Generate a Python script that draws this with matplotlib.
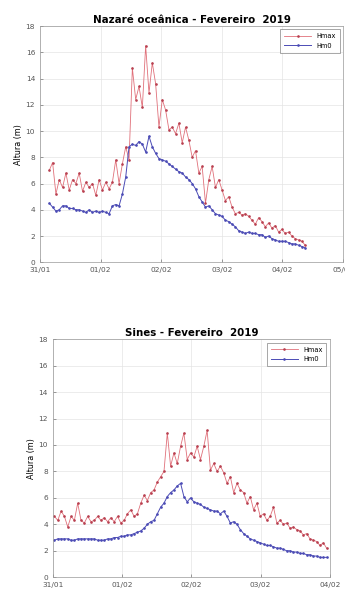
import pandas as pd
import matplotlib.pyplot as plt
import matplotlib.dates as mdates


# Nazaré oceânica - wave heights (m), regular sampling from 31/01 ~03:40
nazare_start = '2019-01-31 03:40'
nazare_hmax = [7.0, 7.6, 5.2, 6.3, 5.7, 6.8, 5.5, 6.3, 6.0, 6.8,
               5.4, 6.1, 5.7, 6.0, 5.1, 6.3, 5.5, 6.1, 5.6, 6.1,
               7.8, 6.0, 7.5, 8.8, 7.8, 14.8, 12.4, 13.4, 11.8, 16.5,
               12.9, 15.2, 13.6, 10.3, 12.4, 11.6, 10.1, 10.3, 9.8, 10.6,
               9.1, 10.3, 9.3, 8.0, 8.5, 6.8, 7.3, 4.5, 6.3, 7.3,
               5.7, 6.3, 5.5, 4.7, 5.0, 4.2, 3.7, 3.8, 3.6, 3.7,
               3.5, 3.2, 2.9, 3.4, 3.1, 2.7, 3.0, 2.6, 2.8, 2.3,
               2.5, 2.2, 2.3, 2.0, 1.8, 1.7, 1.6, 1.3]
nazare_hm0 = [4.5, 4.2, 3.9, 4.0, 4.3, 4.3, 4.1, 4.1, 4.0, 4.0,
              3.9, 3.8, 4.0, 3.8, 3.9, 3.8, 3.9, 3.8, 3.7, 4.3,
              4.4, 4.3, 5.2, 6.5, 8.8, 9.0, 8.9, 9.2, 9.0, 8.4,
              9.6, 8.8, 8.3, 7.9, 7.8, 7.7, 7.5, 7.3, 7.1, 6.9,
              6.8, 6.5, 6.3, 6.0, 5.6, 5.0, 4.6, 4.2, 4.3, 4.0,
              3.7, 3.6, 3.5, 3.2, 3.1, 2.9, 2.7, 2.4, 2.3, 2.2,
              2.3, 2.2, 2.2, 2.1, 2.1, 1.9, 2.0, 1.8, 1.7, 1.6,
              1.6, 1.6, 1.5, 1.4, 1.4, 1.3, 1.2, 1.1]

# Sines - wave heights (m)
sines_start = '2019-01-31 00:35'
sines_hmax = [4.6, 4.3, 5.0, 4.6, 3.8, 4.6, 4.3, 5.6, 4.3, 4.1,
              4.6, 4.2, 4.3, 4.6, 4.3, 4.5, 4.2, 4.5, 4.2, 4.6,
              4.1, 4.3, 4.8, 5.1, 4.6, 4.8, 5.6, 6.2, 5.8, 6.4,
              6.6, 7.2, 7.6, 8.0, 10.9, 8.4, 9.4, 8.6, 9.9, 10.9,
              8.9, 9.4, 9.1, 9.9, 8.9, 9.9, 11.1, 8.1, 8.6, 8.0,
              8.4, 7.9, 7.1, 7.6, 6.4, 7.1, 6.6, 6.4, 5.6, 6.1,
              5.1, 5.6, 4.6, 4.8, 4.3, 4.6, 5.3, 4.1, 4.3, 4.0,
              4.1, 3.7, 3.8, 3.6, 3.5, 3.2, 3.3, 2.9, 2.8, 2.7,
              2.4, 2.6, 2.2]
sines_hm0 = [2.8, 2.9, 2.9, 2.9, 2.9, 2.8, 2.8, 2.9, 2.9, 2.9,
             2.9, 2.9, 2.9, 2.8, 2.8, 2.8, 2.9, 2.9, 3.0, 3.0,
             3.1, 3.1, 3.2, 3.2, 3.3, 3.4, 3.5, 3.7, 4.0, 4.2,
             4.3, 4.8, 5.3, 5.6, 6.1, 6.4, 6.6, 6.9, 7.1, 6.1,
             5.7, 6.0, 5.7, 5.6, 5.5, 5.3, 5.2, 5.1, 5.0, 5.0,
             4.8, 5.0, 4.6, 4.1, 4.2, 4.0, 3.6, 3.3, 3.1, 2.9,
             2.8, 2.7, 2.6, 2.5, 2.4, 2.4, 2.3, 2.2, 2.2, 2.1,
             2.0, 2.0, 1.9, 1.9, 1.8, 1.8, 1.7, 1.7, 1.6, 1.6,
             1.5, 1.5, 1.5]

yticks = [0, 2, 4, 6, 8, 10, 12, 14, 16, 18]

nazare_t = pd.date_range(nazare_start, periods=len(nazare_hmax), freq='79min')
sines_t = pd.date_range(sines_start, periods=len(sines_hmax), freq='69min')

fig = plt.figure(figsize=(3.45, 5.92), dpi=100)
ax1 = fig.add_axes([0.116, 0.557, 0.878, 0.399])
ax2 = fig.add_axes([0.153, 0.025, 0.803, 0.402])

red = '#e0707a'
blue = '#4b4bb5'


def draw(ax, t, hmax, hm0, title, end):
    ax.plot(t, hmax, color=red, lw=0.6, marker='.', ms=1.8, mfc='#b84050', mec='#b84050', label='Hmax')
    ax.plot(t, hm0, color=blue, lw=0.7, marker='.', ms=1.8, label='Hm0')
    ax.set_xlim(pd.Timestamp('2019-01-31'), pd.Timestamp(end))
    ax.set_ylim(0, 18)
    ax.set_yticks(yticks)
    ax.xaxis.set_major_locator(mdates.DayLocator())
    ax.xaxis.set_major_formatter(mdates.DateFormatter('%d/%m'))
    ax.tick_params(labelsize=5.3, direction='in', length=2, width=0.4, colors='#555555')
    ax.grid(True, color='#e4e4e4', lw=0.5)
    for s in ax.spines.values():
        s.set_color('#999999')
        s.set_linewidth(0.5)
    ax.set_title(title, fontsize=7.4, fontweight='bold', pad=2)
    ax.set_ylabel('Altura (m)', fontsize=5.8, labelpad=2)
    leg = ax.legend(loc='upper right', fontsize=4.8, handlelength=4, fancybox=False,
                    borderpad=0.6, labelspacing=0.5)
    leg.get_frame().set_linewidth(0.5)
    leg.get_frame().set_edgecolor('#666666')


draw(ax1, nazare_t, nazare_hmax, nazare_hm0, 'Nazaré oceânica - Fevereiro  2019', '2019-02-05')
draw(ax2, sines_t, sines_hmax, sines_hm0, 'Sines - Fevereiro  2019', '2019-02-04')

fig.savefig('out.png', dpi=100)
